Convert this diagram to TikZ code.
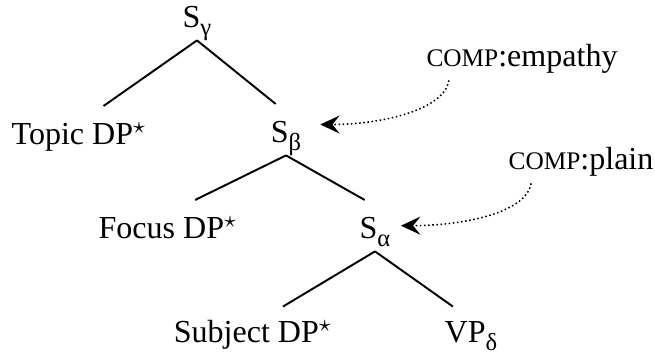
\documentclass[tikz,border=0pt]{standalone}
\usepackage{fontspec}
\setmainfont{Liberation Serif}
\usetikzlibrary{arrows.meta}
\newcommand{\compsc}{{\fontsize{9.8}{11}\selectfont COMP}}
\newcommand{\catsub}[1]{\raisebox{-0.22em}{\fontsize{9.5}{10}\selectfont #1}}

\begin{document}
\begin{tikzpicture}[
    x=0.387pt, y=-0.387pt,
    cat/.style={anchor=base, inner sep=0pt, text height=14.9pt, text depth=4.6pt,
                font=\fontsize{12.4}{14}\selectfont},
    comp/.style={anchor=base, inner sep=0pt, text depth=5pt,
                 font=\fontsize{12.4}{14}\selectfont},
    branch/.style={line width=0.75pt},
    link/.style={densely dotted, line width=0.6pt,
                 -{Stealth[length=7.5pt, width=7pt, inset=2.8pt]}},
  ]
    \useasboundingbox (0,0) rectangle (655,356);

    % tree
    \node[cat] (sg) at (197,28) {S\catsub{γ}};
    \node[cat] (topic) at (79,145) {Topic DP$^\star$};
    \node[cat] (sb) at (286,143) {S\catsub{β}};
    \node[cat] (focus) at (168,239) {Focus DP$^\star$};
    \node[cat] (sa) at (375,239) {S\catsub{α}};
    \node[cat] (subj) at (253,343) {Subject DP$^\star$};
    \node[cat] (vp) at (471,343) {VP\catsub{δ}};

    \draw[branch] (sg.south) -- ([xshift=9.5pt]topic.north);
    \draw[branch] (sg.south) -- ([xshift=-4pt]sb.north);
    \draw[branch] (sb.south) -- ([xshift=10.5pt]focus.north);
    \draw[branch] (sb.south) -- ([xshift=-4pt]sa.north);
    \draw[branch] (sa.south) -- ([xshift=11.6pt, yshift=-1pt]subj.north);
    \draw[branch] (sa.south) -- ([xshift=-7pt, yshift=-1pt]vp.north);

    % complementizer labels
    \node[comp] (empathy) at (522,67) {\compsc:empathy};
    \node[comp] (plain) at (581,170) {\compsc:plain};

    \draw[link] ([xshift=8.9pt]empathy.south west) .. controls +(-5,30) and +(60,0) .. ([xshift=7.2pt, yshift=2pt]sb.east);
    \draw[link] ([xshift=8.9pt]plain.south west) .. controls +(-5,30) and +(60,0) .. ([xshift=3.9pt]sa.east);
  \end{tikzpicture}
\end{document}
